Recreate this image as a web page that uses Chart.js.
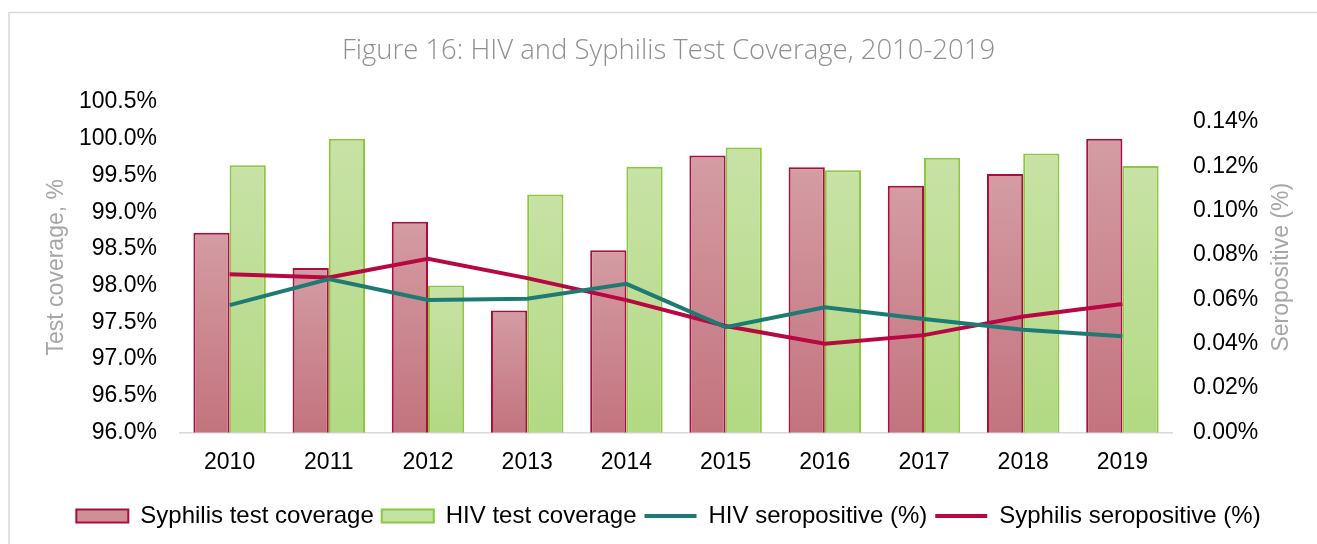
<!DOCTYPE html>
<html>
<head>
<meta charset="utf-8">
<script src="https://cdn.jsdelivr.net/npm/chart.js@4"></script>
<style>
  html, body { margin: 0; padding: 0; background: #fff; overflow: hidden; }
  #wrap { position: relative; width: 1317px; height: 544px; }
</style>
</head>
<body>
<div id="wrap"><canvas id="myChart" width="1317" height="544"></canvas></div>
<script>
const years = ['2010', '2011', '2012', '2013', '2014', '2015', '2016', '2017', '2018', '2019'];
const syphilisCoverage = [98.72, 98.24, 98.87, 97.66, 98.48, 99.77, 99.61, 99.36, 99.52, 100.0];
const hivCoverage = [99.64, 100.0, 98.0, 99.24, 99.62, 99.88, 99.57, 99.74, 99.8, 99.63];
const hivSeropositive = [0.0574, 0.0692, 0.0597, 0.0603, 0.067, 0.0475, 0.0565, 0.0512, 0.0463, 0.0434];
const syphilisSeropositive = [0.0714, 0.0699, 0.0783, 0.0696, 0.0597, 0.048, 0.04, 0.0439, 0.0523, 0.0579];

const fontFamily = '"Liberation Sans", Arial, sans-serif';
const padLeft = 20;
const padBottom = 6;

// gradient for each bar, from its top down to the axis
function barGradient(top, bottom, solid) {
  return (context) => {
    const chart = context.chart;
    const area = chart.chartArea;
    if (!area || context.type !== 'data') return solid;
    const yTop = chart.scales.y.getPixelForValue(context.raw);
    const g = chart.ctx.createLinearGradient(0, yTop, 0, area.bottom);
    g.addColorStop(0, top);
    g.addColorStop(1, bottom);
    return g;
  };
}

const extras = {
  id: 'extras',
  beforeDraw(chart) {
    const c = chart.ctx;
    c.save();
    c.strokeStyle = '#d9d9d9';
    c.lineWidth = 1.5;
    c.strokeRect(9, 12.5, 1400, 600);
    c.restore();
  },
  afterDraw(chart) {
    const c = chart.ctx;
    const a = chart.chartArea;
    const mid = (a.top + a.bottom) / 2;
    c.save();
    c.font = '23px ' + fontFamily;
    c.fillStyle = '#a6a6a6';
    c.textAlign = 'center';
    c.textBaseline = 'middle';
    c.translate(a.left - 123, mid);
    c.rotate(-Math.PI / 2);
    c.fillText('Test coverage, %', 0, 0);
    c.restore();
    c.save();
    c.font = '23px ' + fontFamily;
    c.fillStyle = '#a6a6a6';
    c.textAlign = 'center';
    c.textBaseline = 'middle';
    c.translate(a.right + 110, mid);
    c.rotate(-Math.PI / 2);
    c.fillText('Seropositive (%)', 0, 0);
    c.restore();
  },
};

const legendFill = ['#cf8f97', '#c4e2a2'];

const chart = new Chart(document.getElementById('myChart'), {
  type: 'bar',
  data: {
    labels: years,
    datasets: [
      {
        label: 'Syphilis test coverage',
        data: syphilisCoverage,
        yAxisID: 'y',
        order: 1,
        backgroundColor: barGradient('#d49ca3', '#c3737e', '#cf8f97'),
        borderColor: '#a80f40',
        borderWidth: 2,
        borderSkipped: 'bottom',
        pointStyle: 'rect',
        barPercentage: 1,
        categoryPercentage: 0.73,
      },
      {
        label: 'HIV test coverage',
        data: hivCoverage,
        yAxisID: 'y',
        order: 1,
        backgroundColor: barGradient('#c8e2a6', '#b2d983', '#c4e2a2'),
        borderColor: '#8dc63f',
        borderWidth: 2,
        borderSkipped: 'bottom',
        pointStyle: 'rect',
        barPercentage: 1,
        categoryPercentage: 0.73,
      },
      {
        type: 'line',
        label: 'HIV seropositive (%)',
        data: hivSeropositive,
        yAxisID: 'y1',
        order: 0,
        borderColor: '#1e7b74',
        backgroundColor: '#1e7b74',
        borderWidth: 4,
        pointRadius: 0,
        pointStyle: 'line',
        tension: 0,
      },
      {
        type: 'line',
        label: 'Syphilis seropositive (%)',
        data: syphilisSeropositive,
        yAxisID: 'y1',
        order: 0,
        borderColor: '#b70842',
        backgroundColor: '#b70842',
        borderWidth: 4,
        pointRadius: 0,
        pointStyle: 'line',
        tension: 0,
      },
    ],
  },
  options: {
    responsive: false,
    animation: false,
    layout: { padding: { left: padLeft, bottom: padBottom } },
    plugins: {
      tooltip: { enabled: false },
      title: {
        display: true,
        text: 'Figure 16: HIV and Syphilis Test Coverage, 2010-2019',
        color: '#8f8f8f',
        font: { family: '"Open Sans", "Noto Sans", sans-serif', size: 27.5, weight: '300', lineHeight: 1.2 },
        padding: { top: 35, bottom: 34 },
      },
      legend: {
        position: 'bottom',
        labels: {
          usePointStyle: true,
          pointStyleWidth: 52,
          boxHeight: 13,
          padding: 8,
          color: '#000',
          font: { family: fontFamily, size: 24 },
          sort: (a, b) => a.datasetIndex - b.datasetIndex,
          generateLabels(chart) {
            const items = Chart.defaults.plugins.legend.labels.generateLabels(chart);
            items.forEach((it) => {
              if (it.datasetIndex < 2) it.fillStyle = legendFill[it.datasetIndex];
            });
            return items;
          },
        },
      },
    },
    scales: {
      x: {
        grid: { display: false, drawTicks: false },
        border: { display: true, color: '#d9d9d9', width: 1.5 },
        ticks: { color: '#000', font: { family: fontFamily, size: 23 }, padding: 16, maxRotation: 0 },
        afterFit(scale) {
          const lh = scale.chart.legend ? scale.chart.legend.height : 60;
          scale.height = 544 - padBottom - 432.5 - lh;
        },
      },
      y: {
        position: 'left',
        min: 96,
        max: 100.5,
        grid: { display: false, drawTicks: false },
        border: { display: false },
        ticks: {
          stepSize: 0.5,
          color: '#000',
          padding: 23,
          font: { family: fontFamily, size: 23 },
          callback: (v) => v.toFixed(1) + '%',
        },
        afterFit(scale) { scale.width = 180 - padLeft; },
      },
      y1: {
        position: 'right',
        min: 0,
        max: 0.149,
        grid: { display: false, drawTicks: false },
        border: { display: false },
        ticks: {
          stepSize: 0.02,
          includeBounds: false,
          color: '#000',
          padding: 21,
          font: { family: fontFamily, size: 23 },
          callback: (v) => v.toFixed(2) + '%',
        },
        afterBuildTicks(scale) {
          scale.ticks = scale.ticks.filter((t) => t.value <= 0.1401);
        },
        afterFit(scale) { scale.width = 145; },
      },
    },
  },
  plugins: [extras],
});
</script>
</body>
</html>
